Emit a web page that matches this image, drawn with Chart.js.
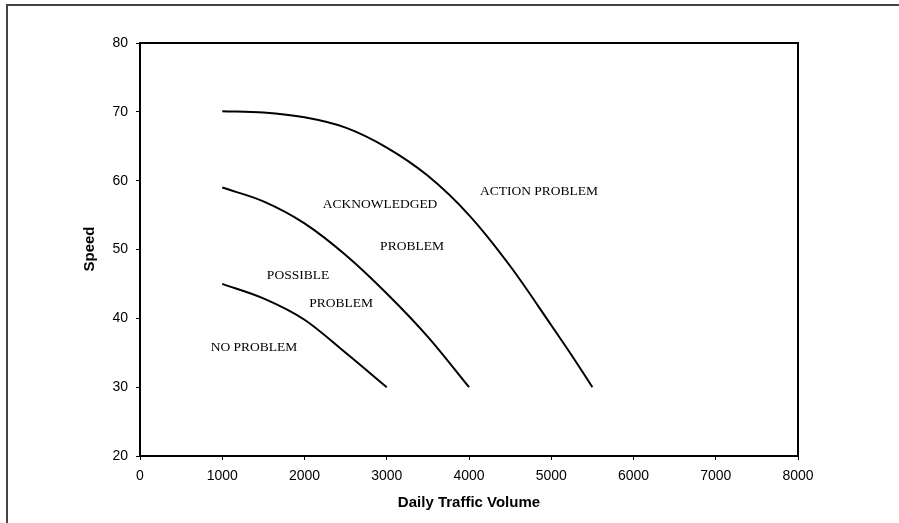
<!DOCTYPE html>
<html>
<head>
<meta charset="utf-8">
<script src="https://cdn.jsdelivr.net/npm/chart.js@4"></script>
<style>
  html, body { margin: 0; padding: 0; background: #fff; }
  canvas { display: block; }
</style>
</head>
<body>
<canvas id="chart" width="899" height="523"></canvas>
<script>
// ==================== DATA ====================
const xTicks = [0, 1000, 2000, 3000, 4000, 5000, 6000, 7000, 8000];
const yTicks = [20, 30, 40, 50, 60, 70, 80];

// boundary curves (daily volume -> speed)
const noProblemVolume = [1000, 1500, 2000, 2500, 3000];
const noProblemSpeed = [45, 42.9, 39.8, 35.0, 30];

const possibleVolume = [1000, 1500, 2000, 2500, 3000, 3500, 4000];
const possibleSpeed = [59, 57.0, 53.8, 49.2, 43.6, 37.3, 30];

const acknowledgedVolume = [1000, 1500, 2000, 2500, 3000, 3500, 4000, 4500, 5000, 5250, 5500];
const acknowledgedSpeed = [70.1, 69.9, 69.2, 67.7, 64.8, 60.7, 55, 47.6, 39.0, 34.6, 30];

// region labels: text, volume, speed
const regionText = ['ACTION PROBLEM', 'ACKNOWLEDGED', 'PROBLEM', 'POSSIBLE', 'PROBLEM', 'NO PROBLEM'];
const regionVolume = [4851, 2918, 3307, 1921, 2444, 1386];
const regionSpeed = [58.4, 56.5, 50.4, 46.3, 42.1, 35.8];

const xTitle = 'Daily Traffic Volume';
const yTitle = 'Speed';

const toPoints = (xs, ys) => xs.map((x, i) => ({ x: x, y: ys[i] }));

function curve(xs, ys) {
  return {
    data: toPoints(xs, ys),
    showLine: true,
    borderColor: '#000',
    borderWidth: 2,
    pointRadius: 0,
    cubicInterpolationMode: 'monotone',
    fill: false
  };
}

// outer frame, plot border, labels
const decor = {
  id: 'decor',
  beforeDraw(chart) {
    const c = chart.ctx;
    c.save();
    c.fillStyle = '#fff';
    c.fillRect(0, 0, chart.width, chart.height);
    c.strokeStyle = '#444';
    c.lineWidth = 2;
    c.beginPath();
    c.moveTo(899, 5);
    c.lineTo(7, 5);
    c.lineTo(7, 523);
    c.stroke();
    c.restore();
  },
  afterDraw(chart) {
    const c = chart.ctx;
    const a = chart.chartArea;
    const xs = chart.scales.x, ys = chart.scales.y;
    c.save();
    c.strokeStyle = '#000';
    c.lineWidth = 2;
    c.strokeRect(a.left, a.top, a.right - a.left, a.bottom - a.top);

    c.fillStyle = '#000';
    c.textAlign = 'center';
    c.textBaseline = 'middle';
    c.font = '13.5px "Liberation Serif", "Times New Roman", serif';
    regionText.forEach((t, i) => {
      c.fillText(t, xs.getPixelForValue(regionVolume[i]), ys.getPixelForValue(regionSpeed[i]));
    });

    c.font = 'bold 15px "Liberation Sans", Arial, sans-serif';
    c.fillText(xTitle, (a.left + a.right) / 2, 503);

    c.translate(90, 249);
    c.rotate(-Math.PI / 2);
    c.fillText(yTitle, 0, 0);
    c.restore();
  }
};

const tickFont = { family: '"Liberation Sans", Arial, sans-serif', size: 14 };

new Chart(document.getElementById('chart'), {
  type: 'scatter',
  data: {
    datasets: [
      curve(noProblemVolume, noProblemSpeed),
      curve(possibleVolume, possibleSpeed),
      curve(acknowledgedVolume, acknowledgedSpeed)
    ]
  },
  options: {
    responsive: false,
    animation: false,
    layout: { padding: { left: 0, top: 43, right: 101, bottom: 0 } },
    plugins: {
      legend: { display: false },
      tooltip: { enabled: false }
    },
    scales: {
      x: {
        type: 'linear',
        min: xTicks[0],
        max: xTicks[xTicks.length - 1],
        afterBuildTicks: s => { s.ticks = xTicks.map(v => ({ value: v })); },
        afterFit: s => { s.height = 67; },
        grid: { drawOnChartArea: false, color: '#000', tickLength: 4 },
        border: { display: false },
        ticks: { color: '#000', font: tickFont, padding: 8, maxRotation: 0, callback: v => String(v) }
      },
      y: {
        type: 'linear',
        min: yTicks[0],
        max: yTicks[yTicks.length - 1],
        afterBuildTicks: s => { s.ticks = yTicks.map(v => ({ value: v })); },
        afterFit: s => { s.width = 140; },
        grid: { drawOnChartArea: false, color: '#000', tickLength: 4 },
        border: { display: false },
        ticks: { color: '#000', font: tickFont, padding: 8, callback: v => String(v) }
      }
    }
  },
  plugins: [decor]
});
</script>
</body>
</html>
